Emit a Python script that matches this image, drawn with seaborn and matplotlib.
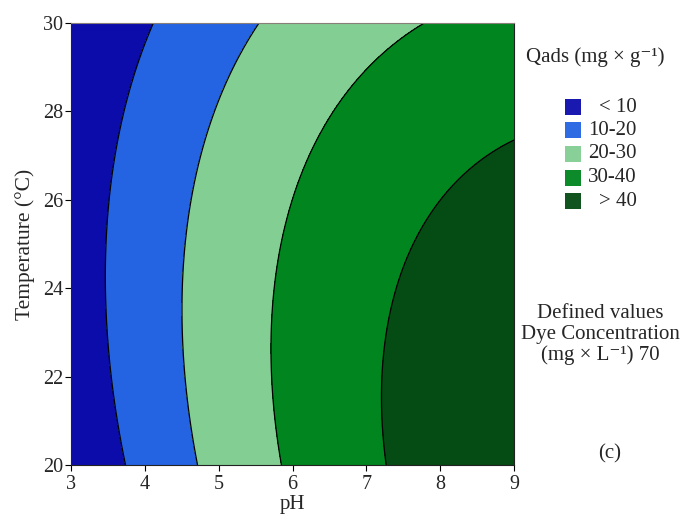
import numpy as np
import matplotlib
matplotlib.use('Agg')
import matplotlib.pyplot as plt
import seaborn as sns
from matplotlib.patches import Rectangle

# contour positions (pH at given temperature) for each Qads level
temp_rows = [30, 28, 26, 24, 22, 20]
ph_q10 = [4.11, 3.74, 3.52, 3.46, 3.54, 3.73]
ph_q20 = [5.56, 4.90, 4.62, 4.52, 4.56, 4.71]
ph_q30 = [7.82, 6.55, 5.98, 5.77, 5.73, 5.85]
temp_q40 = [27.33, 26, 24, 22, 20]
ph_q40 = [9.0, 7.95, 7.41, 7.22, 7.26]

levels = [0, 10, 20, 30, 40, 60]
level_labels = ['< 10', '10-20', '20-30', '30-40', '> 40']
level_colors = ['#0c0cab', '#2463e2', '#83ce93', '#00851f', '#044b14']

sns.set_theme(style='ticks')
plt.rcParams['font.family'] = ['Liberation Serif', 'DejaVu Serif']


def fit_surface():
   ''' quadratic response surface through the read contour points '''
   xs, ts, qs = [], [], []
   for ph, q in [(ph_q10, 10), (ph_q20, 20), (ph_q30, 30)]:
      xs += ph
      ts += temp_rows
      qs += [q] * len(ph)
   xs += ph_q40
   ts += temp_q40
   qs += [40] * len(ph_q40)
   x = np.array(xs)
   t = np.array(ts)
   A = np.column_stack([np.ones_like(x), x, t, x * x, t * t, x * t])
   coef, *_ = np.linalg.lstsq(A, np.array(qs, dtype=float), rcond=None)
   return coef


def main():
   coef = fit_surface()
   ph = np.linspace(3, 9, 301)
   temp = np.linspace(20, 30, 301)
   X, T = np.meshgrid(ph, temp)
   Q = (coef[0] + coef[1] * X + coef[2] * T + coef[3] * X * X
        + coef[4] * T * T + coef[5] * X * T)

   fig = plt.figure(figsize=(6.84, 5.17), dpi=100)
   ax = fig.add_axes([0.1038, 0.1006, 0.6477, 0.855])
   ax.contourf(X, T, Q, levels=levels, colors=level_colors, extend='both')
   ax.contour(X, T, Q, levels=levels[1:-1], colors='black', linewidths=0.9)
   ax.set_xlim(3, 9)
   ax.set_ylim(20, 30)
   ax.set_xticks(range(3, 10))
   ax.set_yticks(range(20, 31, 2))
   ax.tick_params(labelsize=14.5, length=4, width=0.8, color='black')
   ax.tick_params(axis='x', pad=3)
   ax.tick_params(axis='y', pad=1.5)
   for sp in ax.spines.values():
      sp.set_visible(True)
      sp.set_color('#222222')
      sp.set_linewidth(0.8)
   ax.spines['top'].set_color('#8a7f78')
   ax.set_xlabel('pH', fontsize=15, labelpad=1)
   ax.set_ylabel('Temperature (°C)', fontsize=15.5, labelpad=6)

   fig.text(595 / 684, 1 - 57 / 517, 'Qads (mg × g\u207b\u00b9)',
            fontsize=15, ha='center', va='center')
   for i, (lab, col) in enumerate(zip(level_labels, level_colors)):
      yc = 107 + i * 23.5
      fig.patches.append(Rectangle((565 / 684, 1 - (yc + 8) / 517), 16 / 684, 16 / 517,
                                   transform=fig.transFigure, facecolor=col,
                                   edgecolor='none', alpha=0.95))
      fig.text(637 / 684, 1 - yc / 517, lab, fontsize=15, ha='right', va='center')

   fig.text(600 / 684, 1 - 313 / 517, 'Defined values', fontsize=15, ha='center', va='center')
   fig.text(600 / 684, 1 - 334 / 517, 'Dye Concentration', fontsize=15, ha='center', va='center')
   fig.text(600 / 684, 1 - 355 / 517, '(mg × L\u207b\u00b9) 70', fontsize=15,
            ha='center', va='center')
   fig.text(610 / 684, 1 - 454 / 517, '(c)', fontsize=15, ha='center', va='center')

   plt.savefig('out.png', dpi=100)


if __name__ == '__main__':
   main()
